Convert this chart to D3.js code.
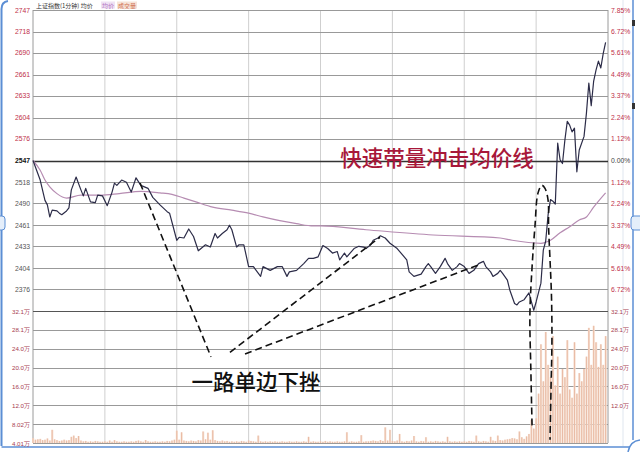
<!DOCTYPE html>
<html><head><meta charset="utf-8">
<script src="https://cdn.jsdelivr.net/npm/d3@7"></script>
<style>body{margin:0;background:#fff;} svg{display:block;}</style>
</head><body>
<svg id="c" width="640" height="452"></svg>
<script>
// ---- data ----
const prevClose = 2547;
const priceMinutes = [0,3,5,6,7,8,10,11,12,14,15,16,18,20,21,22,24,26,27,29,31,33,34,35,37,39,41,43,45,48,50,53,56,57,60,61,63,65,67,69,72,74,76,77,79,81,82,83,85,86,88,90,92,95,96,99,102,104,106,107,110,113,115,117,119,121,123,125,127,128,130,131,134,136,138,139,141,142,144,145,147,149,152,156,157,159,162,164,165,166,168,170,172,173,175,177,178,180,182,184,186,188,189,191,192,194,195,196,198,199,201,202,203,205,207,209,210,212,213,214,215,216,217,218,219,220,221,222,223,224,225,226,227,228,230,231,232,233,234,235,236,237,238,239];
const priceValues  = [2547,2521,2494,2488,2472,2481,2480,2477,2475,2480,2484,2508,2525,2508,2500,2510,2492,2491,2501,2500,2487,2505,2517,2514,2521,2518,2505,2524,2514,2510,2498,2488,2479,2477,2441,2445,2444,2456,2446,2427,2435,2432,2450,2444,2450,2455,2461,2455,2432,2435,2435,2406,2406,2393,2406,2401,2406,2406,2393,2399,2401,2410,2417,2417,2419,2434,2430,2424,2426,2415,2424,2419,2430,2433,2432,2430,2435,2441,2444,2447,2444,2437,2430,2415,2399,2393,2396,2406,2410,2406,2397,2406,2417,2410,2401,2406,2410,2406,2397,2401,2410,2413,2406,2399,2393,2397,2401,2397,2388,2375,2357,2355,2359,2362,2371,2348,2359,2384,2428,2440,2475,2495,2493,2489,2570,2548,2543,2574,2599,2594,2585,2590,2532,2561,2579,2610,2650,2620,2652,2667,2679,2670,2689,2704];
const avgMinutes = [0,3,5,7,10,14,20,28,36,45,53,58,63,68,75,83,90,96,103,110,117,120,139,167,195,200,212,216,220,224,228,231,234,239];
const avgValues  = [2547,2534,2521,2512,2503,2497,2501,2501,2503,2506,2504,2502,2497,2492,2485,2481,2477,2472,2467,2463,2460,2460,2455,2448,2444,2441,2437,2441,2451,2459,2468,2472,2485,2504];
// volume per minute, unit 万
const volumes = [
1.2,0.8,0.9,1.0,0.7,0.8,1.1,0.6,3.2,0.9,0.7,0.5,0.6,0.8,0.6,0.7,1.5,1.8,1.2,1.7,
0.6,0.4,0.5,0.3,0.4,0.3,0.5,0.4,0.3,0.3,0.4,0.3,0.6,0.3,0.7,0.4,0.3,0.3,0.4,0.3,
0.3,0.4,0.3,0.5,0.6,0.4,0.3,0.7,0.4,0.3,0.3,0.4,0.3,0.3,0.4,0.3,0.5,0.4,0.6,0.8,
3.0,0.8,2.6,0.6,0.5,0.4,0.6,0.5,0.4,0.7,0.6,2.8,0.9,2.5,0.8,3.1,0.7,0.5,0.4,0.6,
0.4,0.5,0.3,0.4,0.3,0.4,0.3,0.5,0.4,0.3,0.6,0.5,0.4,0.3,1.8,0.4,0.3,0.4,0.3,0.4,
0.3,0.4,0.3,0.3,0.4,0.3,0.3,0.4,0.3,0.3,0.4,0.3,0.3,0.4,0.3,1.5,0.3,0.4,0.3,0.3,
0.4,0.3,0.5,0.3,0.4,0.3,0.3,0.4,0.3,0.3,0.4,2.6,0.3,0.4,0.3,0.3,0.4,1.9,0.3,0.4,
0.4,0.5,0.6,0.5,0.4,0.7,0.5,3.8,0.6,3.2,0.5,0.4,0.6,2.2,0.4,0.3,0.5,0.4,0.6,1.7,
0.4,0.3,0.5,0.4,1.4,0.3,0.4,0.3,0.5,0.4,0.3,0.4,0.3,1.5,0.4,0.3,0.4,0.3,0.4,0.3,
0.4,0.3,0.5,0.4,0.3,1.8,0.4,0.3,0.5,0.4,0.3,1.5,0.6,0.5,1.8,0.7,0.6,0.8,0.9,1.0,
1.2,1.1,0.9,2.8,1.4,1.0,1.6,2.2,5.6,3.5,6.0,12.0,24.0,15.0,27.0,19.0,16.0,26.0,14.0,21.0,
12.0,18.0,16.0,25.0,13.0,11.0,24.5,12.0,17.0,15.0,18.0,21.0,28.0,19.0,28.5,24.5,18.5,24.0,19.0,26.0];
const priceTicks = [2747,2718,2690,2661,2633,2604,2576,2547,2518,2490,2461,2433,2404,2376];
const pctLabels = ["7.85%","6.72%","5.61%","4.49%","3.37%","2.24%","1.12%","0.00%","1.12%","2.24%","3.37%","4.49%","5.61%","6.72%"];
const volLabelsLeft = ["32.1万","28.1万","24.0万","20.0万","16.0万","12.0万","8.02万","4.01万"];
const volLabelsRight = ["32.1万","28.1万","24.0万","20.0万","16.0万","12.0万"];
const timeGrid = [0,30,60,90,120,150,180,210,240];
// annotations (minute, price)
const trendLines = [
  {m1:44.7,p1:2517,m2:74.3,p2:2286},
  {m1:82.2,p1:2292,m2:144.8,p2:2445},
  {m1:88.5,p1:2290,m2:185.7,p2:2408}
];
const loopMinutes = [208.3,207.8,207.4,208.3,209.5,210.8,212.4,213.7,215.0,215.2,215.8,216.4,216.6,216.2,215.8];
const loopPrices  = [2195,2269,2342,2405,2459,2504,2514,2510,2494,2459,2415,2368,2308,2242,2176];
const noteRally = "快速带量冲击均价线";
const noteDown = "一路单边下挫";

// ---- scales ----
const svg = d3.select("#c");
const L = 33, R = 608, T = 10, PB = 311, VB = 443;
const x = d3.scaleLinear().domain([0,240]).range([L,R]);
const y = d3.scaleLinear().domain([2347,2747]).range([PB,T]);
const yv = d3.scaleLinear().domain([0,32.1]).range([VB,PB]);
const volGrid = d3.scaleLinear().domain([0,7]).range([PB,VB]);

// ---- frame ----
const blue = "#5b8ed4";
svg.append("rect").attr("x",0).attr("y",0).attr("width",640).attr("height",452).attr("fill","#fff");
svg.append("path").attr("d","M1.5,446 L1.5,9 Q1.5,2 8,1").attr("fill","none").attr("stroke",blue).attr("stroke-width",2);
svg.append("line").attr("x1",1.5).attr("x2",630).attr("y1",447).attr("y2",447).attr("stroke",blue).attr("stroke-width",1.5);
svg.append("line").attr("x1",633).attr("x2",633).attr("y1",0).attr("y2",440).attr("stroke",blue).attr("stroke-width",1.5);
svg.append("line").attr("x1",623).attr("x2",623).attr("y1",0).attr("y2",446).attr("stroke","#dfe6ef").attr("stroke-width",1);
svg.append("path").attr("d","M628,452 Q630,441 640,440").attr("fill","none").attr("stroke",blue).attr("stroke-width",1.5);
svg.append("rect").attr("x",-3).attr("y",216).attr("width",8).attr("height",14).attr("rx",3).attr("fill","#e4eefa").attr("stroke",blue);
svg.append("rect").attr("x",631).attr("y",216).attr("width",12).attr("height",14).attr("rx",3).attr("fill","#e4eefa").attr("stroke",blue);
svg.append("rect").attr("x",632).attr("y",20).attr("width",3).attr("height",6).attr("fill","#333");
svg.append("rect").attr("x",632).attr("y",103).attr("width",3).attr("height",6).attr("fill","#333");

// ---- grid ----
const g = svg.append("g");
g.selectAll(".vg").data(timeGrid).join("line")
  .attr("x1",d=>x(d)).attr("x2",d=>x(d)).attr("y1",T).attr("y2",VB)
  .attr("stroke",d=>(d===0||d===240)?"#9a9a9a":"#cfcfcf").attr("stroke-width",1);
g.selectAll(".hg").data(priceTicks).join("line")
  .attr("x1",L).attr("x2",R).attr("y1",d=>Math.round(y(d))+0.5).attr("y2",d=>Math.round(y(d))+0.5)
  .attr("stroke",d=>d===prevClose?"#333":"#999").attr("stroke-width",d=>d===prevClose?1.3:1);
g.selectAll(".vgl").data(d3.range(8)).join("line")
  .attr("x1",L).attr("x2",R).attr("y1",d=>Math.round(volGrid(d))+0.5).attr("y2",d=>Math.round(volGrid(d))+0.5)
  .attr("stroke",d=>d===0?"#555":"#999").attr("stroke-width",1);

// ---- axis labels ----
const lab = svg.append("g").attr("font-family","Liberation Sans, Arial, sans-serif").attr("font-size",6.8);
lab.selectAll(".pl").data(priceTicks).join("text")
  .attr("x",30).attr("y",d=>y(d)+2.5).attr("text-anchor","end")
  .attr("fill",d=>d>prevClose?"#c0304a":(d===prevClose?"#111":"#555"))
  .attr("font-weight",d=>d===prevClose?"bold":"normal").text(d=>d);
lab.selectAll(".rl").data(priceTicks).join("text")
  .attr("x",611).attr("y",d=>y(d)+2.5).attr("text-anchor","start")
  .attr("fill",(d,i)=>i===7?"#444":"#c0304a").text((d,i)=>pctLabels[i]);
lab.selectAll(".vll").data(volLabelsLeft).join("text")
  .attr("x",30).attr("y",(d,i)=>volGrid(i)+2.5).attr("text-anchor","end")
  .attr("font-size",6.2).attr("fill","#a8404f").text(d=>d);
lab.selectAll(".vlr").data(volLabelsRight).join("text")
  .attr("x",611).attr("y",(d,i)=>volGrid(i)+2.5).attr("text-anchor","start")
  .attr("font-size",6.2).attr("fill","#a8404f").text(d=>d);

// header
const hd = svg.append("g").attr("font-family","Noto Sans CJK SC, sans-serif").attr("font-size",6);
hd.append("text").attr("x",36).attr("y",7.5).attr("fill","#333").text("上证指数(1分钟) 均价");
hd.append("rect").attr("x",101).attr("y",1.5).attr("width",14).attr("height",7).attr("fill","#efe2f4");
hd.append("text").attr("x",102).attr("y",7.5).attr("fill","#b070c0").text("均价");
hd.append("rect").attr("x",117).attr("y",1.5).attr("width",20).attr("height",7).attr("fill","#f6e3d8");
hd.append("text").attr("x",118).attr("y",7.5).attr("fill","#d07050").text("成交量");

// ---- volume bars ----
const bw = (R-L)/240;
const vg = svg.append("g");
vg.selectAll("rect").data(volumes).join("rect")
  .attr("x",(d,i)=>x(i)-bw/2+0.2).attr("width",bw-0.2)
  .attr("y",d=>yv(d)).attr("height",d=>VB-yv(d))
  .attr("fill","#f7e0d2");
vg.selectAll("line").data(volumes).join("line")
  .attr("x1",(d,i)=>x(i)).attr("x2",(d,i)=>x(i))
  .attr("y1",d=>yv(d)).attr("y2",VB)
  .attr("stroke","#e3aa90").attr("stroke-width",0.7);

// ---- lines ----
const avgData = avgMinutes.map((m,i)=>({m,p:avgValues[i]}));
const priceData = priceMinutes.map((m,i)=>({m,p:priceValues[i]}));
svg.append("path").datum(avgData)
  .attr("d",d3.line().x(d=>x(d.m)).y(d=>y(d.p)).curve(d3.curveMonotoneX))
  .attr("fill","none").attr("stroke","#b68cb2").attr("stroke-width",1.2);
svg.append("path").datum(priceData)
  .attr("d",d3.line().x(d=>x(d.m)).y(d=>y(d.p)))
  .attr("fill","none").attr("stroke","#2c2c48").attr("stroke-width",1.2).attr("stroke-linejoin","round");

// ---- annotations ----
svg.selectAll(".tl").data(trendLines).join("line")
  .attr("x1",d=>x(d.m1)).attr("y1",d=>y(d.p1)).attr("x2",d=>x(d.m2)).attr("y2",d=>y(d.p2))
  .attr("stroke","#111").attr("stroke-width",1.6).attr("stroke-dasharray","7,4");
const loopData = loopMinutes.map((m,i)=>({m,p:loopPrices[i]}));
svg.append("path").datum(loopData)
  .attr("d",d3.line().x(d=>x(d.m)).y(d=>y(d.p)).curve(d3.curveCatmullRom))
  .attr("fill","none").attr("stroke","#111").attr("stroke-width",1.6).attr("stroke-dasharray","7,4");

svg.append("text").attr("x",437).attr("y",166).attr("text-anchor","middle")
  .attr("font-family","Noto Sans CJK SC, sans-serif").attr("font-size",21.5).attr("font-weight",500)
  .attr("fill","#a8183a").text(noteRally);
svg.append("text").attr("x",256).attr("y",390).attr("text-anchor","middle")
  .attr("font-family","Noto Sans CJK SC, sans-serif").attr("font-size",21.5).attr("font-weight",500)
  .attr("fill","#111").text(noteDown);
</script>
</body></html>
